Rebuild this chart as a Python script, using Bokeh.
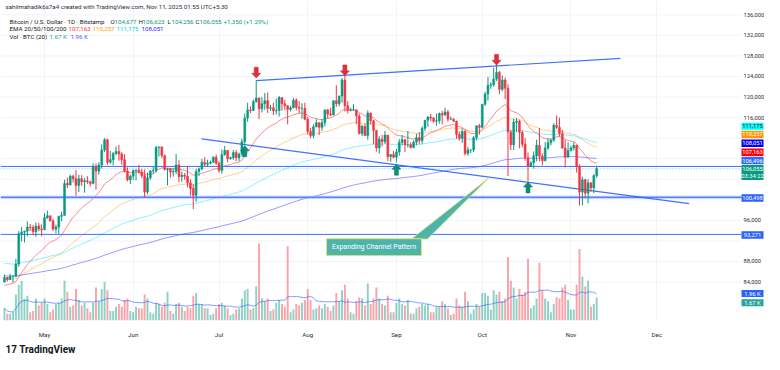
import numpy as np
import pandas as pd
from bokeh.plotting import figure
from bokeh.models import Range1d, FixedTicker, ColumnDataSource, Title
from bokeh.core.properties import value
from bokeh.embed import file_html
from bokeh.resources import INLINE

# ---------------- data: BTC/USD daily (Bitstamp), prices in thousands USD ----------------
first_day = "2025-04-17"
last_day = "2025-11-10"
axis_origin = "2025-05-01"
prev_close_k = 84.0

apr_close = [84.9, 84.5, 85.1, 85.1, 87.5, 93.4, 93.7, 93.9, 94.7, 94.6, 93.8, 94.9, 94.3, 94.2]
apr_high = [85.5, 85.0, 85.6, 85.3, 88.5, 93.9, 94.7, 94.0, 95.8, 95.3, 95.1, 95.6, 95.5, 95.2]
apr_low = [83.9, 84.1, 84.4, 83.9, 85.0, 87.0, 91.9, 91.7, 92.9, 93.9, 93.1, 92.8, 93.9, 92.9]

may_close = [96.5, 96.9, 95.9, 94.3, 94.7, 96.8, 97.0, 103.2, 102.9, 104.6, 104.1, 102.8, 104.1, 103.5, 103.7, 103.5,
             103.2, 106.4, 105.6, 106.8, 109.7, 111.7, 107.3, 107.8, 109.0, 109.4, 108.9, 107.8, 105.6, 103.9, 104.6]
may_high = [97.4, 97.9, 96.9, 96.3, 95.2, 96.9, 97.7, 103.9, 104.3, 104.9, 104.9, 105.8, 104.9, 104.8, 104.2, 104.6,
            103.7, 107.1, 107.1, 107.3, 110.8, 112.0, 111.9, 109.5, 109.3, 110.4, 110.7, 109.3, 108.9, 106.3, 104.9]
may_low = [94.1, 96.3, 95.8, 93.9, 93.5, 93.4, 95.8, 96.9, 102.3, 102.8, 103.4, 100.8, 101.5, 102.7, 101.4, 103.1,
           102.6, 103.0, 102.0, 104.9, 106.1, 109.3, 106.8, 107.0, 106.7, 108.7, 107.6, 106.8, 105.3, 103.6, 103.1]

jun_close = [105.7, 105.8, 105.4, 104.7, 101.5, 104.3, 105.6, 105.7, 110.2, 110.3, 108.6, 105.9, 106.0, 105.4, 105.5,
             106.8, 104.5, 104.8, 104.6, 103.3, 102.2, 100.9, 105.5, 106.0, 107.3, 106.9, 107.1, 107.3, 108.3, 107.1]
jun_high = [105.9, 105.9, 106.8, 106.0, 105.9, 105.3, 105.8, 106.4, 110.5, 110.4, 110.4, 108.8, 106.2, 106.2, 106.1,
            108.9, 107.7, 105.5, 105.2, 106.5, 104.0, 103.0, 106.0, 106.3, 108.0, 108.3, 107.8, 107.6, 108.5, 108.8]
jun_low = [103.9, 103.8, 105.1, 104.2, 100.4, 101.1, 103.9, 105.1, 105.3, 108.4, 108.1, 105.7, 102.8, 104.3, 104.5,
           105.0, 103.4, 103.5, 103.9, 102.4, 100.8, 98.2, 99.6, 104.6, 105.8, 106.5, 106.4, 106.9, 107.2, 106.8]

jul_close = [105.7, 108.8, 109.6, 108.0, 108.2, 109.2, 108.2, 108.9, 111.3, 115.9, 117.5, 117.4, 119.1, 119.8, 117.7,
             118.7, 119.3, 117.8, 117.9, 117.3, 117.4, 119.9, 118.7, 118.3, 117.6, 117.9, 119.4, 118.0, 117.8, 117.8, 115.7]
jul_high = [107.5, 109.8, 110.5, 109.7, 108.4, 109.7, 109.7, 109.2, 111.9, 116.8, 118.9, 118.2, 119.5, 123.2, 119.9,
            120.0, 120.8, 120.9, 118.5, 118.9, 119.7, 120.2, 120.0, 119.5, 118.4, 118.3, 119.8, 119.8, 119.2, 118.8, 118.9]
jul_low = [105.3, 105.1, 108.6, 107.3, 107.8, 107.8, 107.5, 107.5, 108.4, 110.6, 115.2, 116.9, 117.3, 118.9, 115.7,
           117.0, 117.5, 116.9, 117.3, 116.5, 116.6, 116.2, 117.3, 117.4, 114.7, 117.2, 117.8, 117.4, 116.9, 115.8, 115.5]

aug_close = [113.3, 112.5, 114.2, 115.0, 114.1, 115.0, 117.5, 116.7, 116.5, 119.3, 118.7, 120.2, 123.3, 118.3, 117.4,
             117.5, 117.5, 116.3, 112.9, 114.3, 112.5, 116.9, 115.4, 113.5, 110.1, 111.8, 111.3, 112.6, 108.4, 108.8, 108.3]
aug_high = [116.1, 114.0, 114.7, 115.7, 115.1, 115.7, 117.6, 117.7, 117.9, 119.3, 122.3, 120.3, 123.7, 124.5, 119.2,
            117.9, 118.6, 117.6, 116.8, 114.6, 114.8, 117.4, 117.0, 115.6, 113.6, 112.4, 112.6, 113.4, 112.6, 108.9, 109.5]
aug_low = [112.7, 112.0, 112.0, 114.1, 112.6, 113.4, 114.3, 115.9, 116.3, 116.5, 118.1, 118.2, 118.9, 117.2, 116.8,
           117.2, 117.3, 114.7, 112.7, 112.4, 112.4, 111.7, 114.6, 110.8, 109.4, 109.0, 110.4, 110.9, 107.5, 107.4, 108.1]

sep_close = [109.3, 111.2, 111.7, 110.7, 110.7, 110.2, 111.2, 112.1, 111.5, 113.9, 115.5, 116.1, 115.9, 115.3, 115.4,
             116.8, 116.5, 117.1, 115.7, 115.7, 115.3, 112.7, 112.0, 113.3, 109.0, 109.7, 109.7, 112.1, 114.4, 114.1]
sep_high = [109.9, 111.8, 112.6, 111.8, 113.4, 111.2, 111.6, 112.9, 113.2, 114.3, 115.5, 116.3, 116.7, 116.1, 116.8,
            117.0, 117.3, 117.9, 117.5, 116.2, 115.9, 115.4, 113.3, 113.9, 113.6, 110.3, 109.8, 112.4, 114.5, 114.8]
sep_low = [107.3, 108.6, 110.6, 109.3, 110.2, 110.0, 110.0, 110.6, 110.8, 110.9, 113.4, 114.2, 115.3, 115.0, 114.4,
           114.8, 114.7, 116.3, 115.2, 115.5, 115.1, 111.9, 111.5, 111.1, 108.6, 108.6, 109.1, 109.3, 111.6, 112.7]

oct_close = [118.6, 120.6, 122.3, 122.4, 123.5, 124.8, 121.5, 123.3, 121.7, 113.2, 110.7, 115.1, 115.3, 113.1, 110.8,
             108.2, 106.5, 107.2, 108.6, 110.6, 108.5, 107.6, 110.1, 111.1, 111.6, 114.5, 114.1, 112.9, 110.1, 108.3, 109.6]
oct_high = [118.6, 121.0, 123.9, 122.9, 125.7, 126.2, 125.1, 124.2, 123.8, 122.5, 113.6, 115.8, 115.9, 115.6, 113.5,
            112.0, 109.2, 107.5, 109.4, 111.7, 114.0, 109.0, 111.2, 112.0, 111.9, 114.9, 116.4, 116.0, 113.6, 111.6, 111.2]
oct_low = [113.9, 118.3, 119.3, 121.6, 122.0, 123.1, 120.6, 121.1, 119.6, 104.6, 109.7, 109.7, 113.2, 110.0, 110.2,
           107.6, 103.6, 106.4, 106.1, 107.5, 107.5, 106.7, 107.5, 109.7, 110.6, 111.3, 113.8, 112.3, 109.9, 106.3, 108.6]

nov_close = [110.1, 110.6, 106.5, 101.5, 103.9, 101.3, 103.3, 102.3, 104.705, 106.055]
nov_high = [110.5, 111.2, 110.7, 106.9, 104.5, 104.1, 104.0, 103.4, 105.0, 106.623]
nov_low = [109.4, 109.6, 105.3, 98.9, 98.9, 100.3, 99.3, 101.5, 101.3, 104.256]

# volume, thousands of BTC
vol_apr = [0.9, 0.5, 0.5, 0.6, 1.9, 2.6, 2.9, 1.6, 1.8, 0.6, 0.7, 1.6, 1.1, 1.3]
vol_may = [1.6, 1.2, 0.6, 0.8, 1.2, 1.3, 1.6, 2.9, 2.1, 1.0, 1.1, 2.3, 1.5, 1.1, 1.3, 0.9, 0.6, 1.3, 2.4, 1.4,
           2.3, 2.8, 2.2, 0.7, 0.7, 1.0, 1.2, 1.0, 1.5, 1.6, 0.7]
vol_jun = [0.6, 1.0, 0.9, 0.9, 1.9, 1.6, 0.6, 0.5, 1.3, 1.2, 1.0, 1.3, 2.1, 0.7, 0.5, 1.2, 1.3, 1.0, 0.7, 1.0,
           0.9, 1.8, 2.0, 1.2, 1.2, 0.9, 0.9, 0.4, 0.5, 0.9]
vol_jul = [1.2, 1.3, 1.1, 0.9, 0.4, 0.5, 0.8, 0.9, 1.6, 2.2, 2.3, 0.8, 0.9, 2.5, 5.6, 1.6, 1.4, 1.6, 0.7, 0.8,
           1.3, 1.5, 1.2, 1.0, 5.4, 0.6, 0.8, 1.2, 1.1, 1.3, 1.5]
vol_aug = [2.3, 1.5, 0.8, 0.9, 1.1, 0.9, 1.2, 1.0, 0.7, 1.1, 2.0, 1.4, 2.2, 2.6, 1.6, 0.6, 0.5, 1.4, 1.7, 1.6,
           1.1, 2.7, 1.2, 1.6, 2.4, 1.6, 1.2, 1.1, 1.8, 0.6, 0.6]
vol_sep = [1.3, 1.6, 1.2, 1.1, 1.5, 0.5, 0.5, 0.9, 1.0, 1.2, 1.1, 1.2, 0.6, 0.6, 1.0, 1.0, 1.4, 1.2, 0.9, 0.4,
           0.5, 1.6, 1.1, 1.0, 2.1, 1.4, 0.5, 0.8, 1.2, 1.0]
vol_oct = [2.0, 2.0, 1.8, 0.8, 2.2, 1.9, 2.1, 1.4, 1.6, 4.6, 2.9, 2.4, 1.6, 2.3, 1.9, 2.1, 4.5, 0.9, 1.1, 1.6,
           4.2, 2.2, 1.6, 1.4, 0.6, 1.2, 1.7, 1.6, 2.4, 2.6, 1.5]
vol_nov = [0.8, 0.8, 2.6, 5.2, 3.2, 2.5, 2.9, 1.0, 1.2, 1.67]

# EMA values on the day before the first candle (read from the left edge)
ema_periods = [20, 50, 100, 200]
ema_seed = [83200, 84500, 87700, 85200]
vol_ma_period = 20

# levels and drawings
level_106 = 106496
level_100 = 100498
level_93 = 93271
last_price = 106055
upper_trend_day = [74, 201.3]
upper_trend_price = [123200, 127520]
lower_trend_day = [54.9, 225.3]
lower_trend_price = [111860, 99250]
top_arrow_day = [74, 105, 158]
top_arrow_tip = [123700, 124150, 126200]
bottom_arrow_day = [70, 123, 169]
bottom_arrow_tip = [110500, 106900, 103450]

price_ticks = list(range(84000, 136001, 4000))

# legend / tag texts (as read)
header_text = "sahilmahadik6s7a4 created with TradingView.com, Nov 11, 2025 01:55 UTC+5:30"
ohlc_text = ["104,677", "106,623", "104,256", "106,055"]
change_text = "+1,350 (+1.29%)"
ema_text = ["107,163", "110,257", "111,175", "108,051"]
vol_text = ["1.67 K", "1.96 K"]
countdown_text = "03:34:22"

# ---------------- assemble ----------------
close = np.array(apr_close + may_close + jun_close + jul_close + aug_close + sep_close + oct_close + nov_close) * 1000
high = np.array(apr_high + may_high + jun_high + jul_high + aug_high + sep_high + oct_high + nov_high) * 1000
low = np.array(apr_low + may_low + jun_low + jul_low + aug_low + sep_low + oct_low + nov_low) * 1000
opn = np.concatenate([[prev_close_k * 1000], close[:-1]])
high = np.maximum(high, np.maximum(opn, close))
low = np.minimum(low, np.minimum(opn, close))
volume = np.array(vol_apr + vol_may + vol_jun + vol_jul + vol_aug + vol_sep + vol_oct + vol_nov)

dates = pd.date_range(first_day, last_day, freq="D")
origin = pd.Timestamp(axis_origin)
days = np.asarray((dates - origin).days, dtype=float)
n = len(days)
assert len(close) == n and len(volume) == n

month_starts = pd.date_range(axis_origin, "2025-12-01", freq="MS")
tick_days = [int(d) for d in (month_starts - origin).days]
month_labels = [d.strftime("%b") for d in month_starts]


def ema(series, period, seed):
    a = 2.0 / (period + 1)
    out, e = [], seed
    for c in series:
        e = a * c + (1 - a) * e
        out.append(e)
    return np.array(out)


emas = [ema(close, per, s) for per, s in zip(ema_periods, ema_seed)]
vol_ma = pd.Series(volume).rolling(vol_ma_period, min_periods=1).mean().to_numpy()

UP, DOWN = "#089981", "#f23645"
is_up = close >= opn
ccol = np.where(is_up, UP, DOWN)

src = ColumnDataSource(dict(day=days, o=opn, h=high, l=low, c=close,
                            top=np.maximum(opn, close), bot=np.minimum(opn, close),
                            col=ccol, vol=volume, vma=vol_ma,
                            e20=emas[0], e50=emas[1], e100=emas[2], e200=emas[3]))

# ---------------- geometry (pixels of the reference picture) ----------------
X_DAY0, PX_DAY = 44.0, 2.861       # x of May 1, pixels per day
Y_96K, PX_USD = 224.0, 0.005235    # y of 96,000, pixels per USD
VOL_PX_PER_K = 14.0
W, H = 764, 354
FT, FB = 0, 326                    # frame top / bottom
PANE_L, PANE_R = 0, 741            # chart pane; the price scale sits right of it
FONT = "Roboto"
DARK = "#131722"
TEAL = "#089981"
SCALE_FS = "5.8px"


def day_at(px):
    return (px - X_DAY0) / PX_DAY


def price_at(py):
    return 96000 + (Y_96K - py) / PX_USD


def y_of(price):
    return Y_96K - (price - 96000) * PX_USD


p = figure(width=W, height=H, output_backend="svg", toolbar_location=None,
           x_range=Range1d(day_at(0), day_at(W)),
           y_range=Range1d(price_at(FB), price_at(FT)),
           x_axis_location="below", y_axis_location=None,
           min_border_left=0, min_border_right=0,
           min_border_top=FT, min_border_bottom=H - FB)
p.outline_line_color = None
p.extra_y_ranges = {"vol": Range1d(0, (FB - FT) / VOL_PX_PER_K)}

# time axis
xa = p.xaxis[0]
xa.ticker = FixedTicker(ticks=tick_days)
xa.major_label_overrides = {d: m for d, m in zip(tick_days, month_labels)}
xa.axis_line_color = None
xa.major_tick_line_color = None
xa.minor_tick_line_color = None
xa.major_label_text_font = FONT
xa.major_label_text_font_size = "6.2px"
xa.major_label_text_color = "#2a2e39"
xa.major_label_standoff = 4
p.xgrid.ticker = FixedTicker(ticks=tick_days)
p.xgrid.grid_line_color = "#f0f3fa"
p.ygrid.visible = False

x_left, x_right = day_at(PANE_L), day_at(PANE_R)
# horizontal grid across the pane
p.segment(x0=[x_left] * len(price_ticks), y0=price_ticks, x1=[x_right] * len(price_ticks), y1=price_ticks,
          line_color="#f0f3fa", line_width=1)

# volume
p.vbar(x="day", top="vol", width=0.68, y_range_name="vol", fill_color="col",
       fill_alpha=0.45, line_color=None, source=src)
p.line(x="day", y="vma", y_range_name="vol", line_color="#2962ff", line_alpha=0.6,
       line_width=1, source=src)

# EMAs
for col, color in zip(["e20", "e50", "e100", "e200"], ["#ff0000", "#ff9800", "#00e5ff", "#2020ff"]):
    p.line(x="day", y=col, line_color=color, line_alpha=0.45, line_width=1, source=src)


def hline(level, **kw):
    p.segment(x0=[x_left], y0=[level], x1=[x_right], y1=[level], **kw)


# horizontal levels
hline(level_106, line_color="#2962ff", line_width=1, line_alpha=0.9)
hline(last_price, line_color=TEAL, line_width=1, line_alpha=0.5, line_dash="1 2")
hline(level_100, line_color="#a9bcfb", line_width=3, line_alpha=0.8)
hline(level_100, line_color="#2962ff", line_width=1, line_alpha=0.9)
hline(level_93, line_color="#2962ff", line_width=1, line_alpha=0.9)

# trendlines
p.line(upper_trend_day, upper_trend_price, line_color="#2962ff", line_width=1.2, line_alpha=0.9)
p.line(lower_trend_day, lower_trend_price, line_color="#2962ff", line_width=1.2, line_alpha=0.9)

# candles
p.segment(x0="day", y0="l", x1="day", y1="h", line_color="col", line_width=1, source=src)
p.vbar(x="day", top="top", bottom="bot", width=0.68, fill_color="col", line_color="col",
       line_width=0.5, source=src)


# arrows
def arrow_xy(day, tip, up):
    hw, hh, sw, sh = 4.5, 5.0, 2.0, 6.0
    s = 1 if up else -1
    pts = [(0, 0), (hw, -hh), (sw, -hh), (sw, -hh - sh), (-sw, -hh - sh), (-sw, -hh), (-hw, -hh)]
    return [day + a / PX_DAY for a, _ in pts], [tip + s * b / PX_USD for _, b in pts]


ax_, ay_ = zip(*[arrow_xy(d, t, False) for d, t in zip(top_arrow_day, top_arrow_tip)])
p.patches(list(ax_), list(ay_), fill_color="#e0313b", line_color="#c62828", line_width=0.5)
bx_, by_ = zip(*[arrow_xy(d, t, True) for d, t in zip(bottom_arrow_day, bottom_arrow_tip)])
p.patches(list(bx_), list(by_), fill_color="#0a8f79", line_color="#067a66", line_width=0.5)

# callout
ptr_px = [(411, 243), (427, 243), (488, 181)]
p.patch([day_at(a) for a, _ in ptr_px], [price_at(b) for _, b in ptr_px],
        fill_color="#4fb3ad", line_color="#d4e36a", line_width=0.8)
box_cx, box_cy = 373.5, 251.3
p.rect(x=[day_at(box_cx)], y=[price_at(box_cy)], width=95, height=17, width_units="screen",
       height_units="screen", fill_color="#4fb3ad", line_color="#dce775", line_width=1)
p.text(x=[day_at(box_cx)], y=[price_at(box_cy)], text=["Expanding Channel Pattern"], text_color="white",
       text_font=value(FONT), text_font_size="7px", text_align="center", text_baseline="middle")

# legend texts
legend = [
    (7, [(5, header_text, "#2a2e39")]),
    (22, [(9, "Bitcoin / U.S. Dollar · 1D · Bitstamp", DARK),
          (110, "O", DARK), (114, ohlc_text[0], TEAL), (138, "H", DARK), (142, ohlc_text[1], TEAL),
          (167, "L", DARK), (171, ohlc_text[2], TEAL), (195, "C", DARK), (199, ohlc_text[3], TEAL),
          (223, change_text, TEAL)]),
    (29.5, [(9, "EMA 20/50/100/200", DARK), (68, ema_text[0], "#f23645"), (92, ema_text[1], "#ff9800"),
            (116, ema_text[2], "#00d0f0"), (141, ema_text[3], "#3030ff")]),
    (37.5, [(9, "Vol · BTC (20)", DARK), (49, vol_text[0], "#26a69a"), (70, vol_text[1], "#3f5ef0")]),
]
lx, ly, lt, lc = [], [], [], []
for yy, pieces in legend:
    for xx, t, c in pieces:
        lx.append(day_at(xx)); ly.append(price_at(yy)); lt.append(t); lc.append(c)
p.text(x=lx, y=ly, text=lt, text_color=lc, text_font=value(FONT), text_font_size="6.2px",
       text_align="left", text_baseline="middle")

# price tags on the right scale: (text lines, centre y, box height, fill, text colour)
tags = [
    ([ema_text[2]], 128.0, 7, "#00ffff", DARK),
    ([ema_text[1]], 136.5, 7.5, "#ff9800", "white"),
    ([ema_text[3]], 145.3, 7.5, "#0000ff", "white"),
    ([ema_text[0]], 154.5, 7.5, "#ff0000", "white"),
    ([f"{level_106:,}"], 163.0, 7.5, "#2f6bff", "white"),
    ([f"{last_price:,}", countdown_text], 175.2, 15, TEAL, "white"),
    ([f"{level_100:,}"], 201.3, 7.5, "#2962ff", "white"),
    ([f"{level_93:,}"], 239.0, 7.5, "#2962ff", "white"),
    ([vol_text[1]], 298.5, 7, "#2962ff", "white"),
    ([vol_text[0]], 307.8, 7, "#26a69a", "white"),
]

# price scale labels (those not hidden behind a tag)
shown_ticks = [t for t in price_ticks
               if all(abs(y_of(t) - cy) > hgt / 2 + 2.5 for _, cy, hgt, _, _ in tags) and y_of(t) > 4]
p.text(x=[day_at(PANE_R + 2)] * len(shown_ticks), y=shown_ticks, text=[f"{t:,}" for t in shown_ticks],
       text_color="#2a2e39", text_font=value(FONT), text_font_size=SCALE_FS,
       text_align="left", text_baseline="middle")

tag_l, tag_r = PANE_R, W - 1
tag_cx = day_at((tag_l + tag_r) / 2)
for lines, cy, hgt, bg, fg in tags:
    p.rect(x=[tag_cx], y=[price_at(cy)], width=tag_r - tag_l, height=hgt, width_units="screen",
           height_units="screen", fill_color=bg, line_color=None)
    k = len(lines)
    ys = [price_at(cy + (i - (k - 1) / 2) * 6.2) for i in range(k)]
    p.text(x=[tag_cx] * k, y=ys, text=lines, text_color=fg, text_font=value(FONT),
           text_font_size=SCALE_FS, text_align="center", text_baseline="middle")

# TradingView mark below the time scale
p.add_layout(Title(text="17 TradingView", align="left", offset=5, standoff=0, text_font=FONT,
                   text_font_size="10px", text_font_style="bold", text_color=DARK), "below")

open("out.html", "w").write(file_html(p, INLINE))
